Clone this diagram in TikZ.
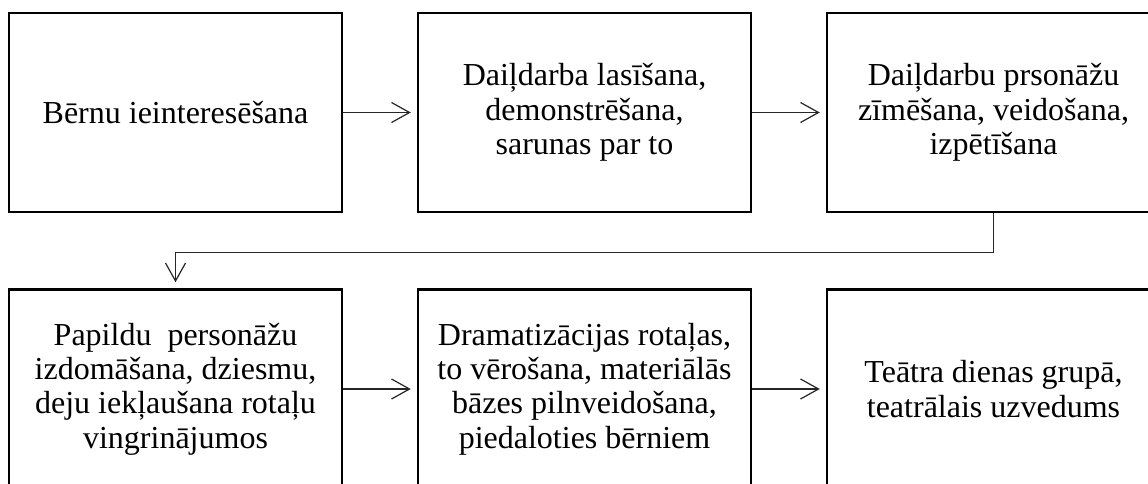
\documentclass[tikz,border=0pt]{standalone}
\usepackage{fontspec}
\setmainfont{Liberation Serif}
\usetikzlibrary{arrows.meta}
\tikzset{
  box/.style={draw=black, line width=2.5pt, rectangle, minimum width=333pt, minimum height=199pt,
    inner sep=0pt, align=center, font=\fontsize{32}{34.4}\selectfont},
  conn/.style={draw=black!85, line width=1.2pt, -{Straight Barb[length=18pt,width=20pt,line width=1.2pt]}, shorten >=6pt}
}
\begin{document}
\begin{tikzpicture}[x=1pt,y=-1pt]
\useasboundingbox (0,0) rectangle (1148,484);
\clip (0,0) rectangle (1148,484);
\node[box] (b1) at (175.5,112.5) {Bērnu ieinteresēšana};
\node[box] (b2) at (584.5,112.5) {Daiļdarba lasīšana,\\demonstrēšana,\\sarunas par to};
\node[box] (b3) at (993.5,112.5) {Daiļdarbu prsonāžu\\zīmēšana, veidošana,\\izpētīšana};
\node[box] (b4) at (175.5,389) {Papildu\ \ personāžu\\izdomāšana, dziesmu,\\deju iekļaušana rotaļu\\vingrinājumos};
\node[box] (b5) at (584.5,389) {Dramatizācijas rotaļas,\\to vērošana, materiālās\\bāzes pilnveidošana,\\piedaloties bērniem};
\node[box] (b6) at (993.5,389) {Teātra dienas grupā,\\teatrālais uzvedums};
\coordinate (k1) at ([yshift=-39pt]b3.south);
\draw[conn] (b1) -- (b2);
\draw[conn] (b2) -- (b3);
\draw[conn] (b3.south) -- (k1) -| (b4.north);
\draw[conn] (b4) -- (b5);
\draw[conn] (b5) -- (b6);
\end{tikzpicture}
\end{document}
